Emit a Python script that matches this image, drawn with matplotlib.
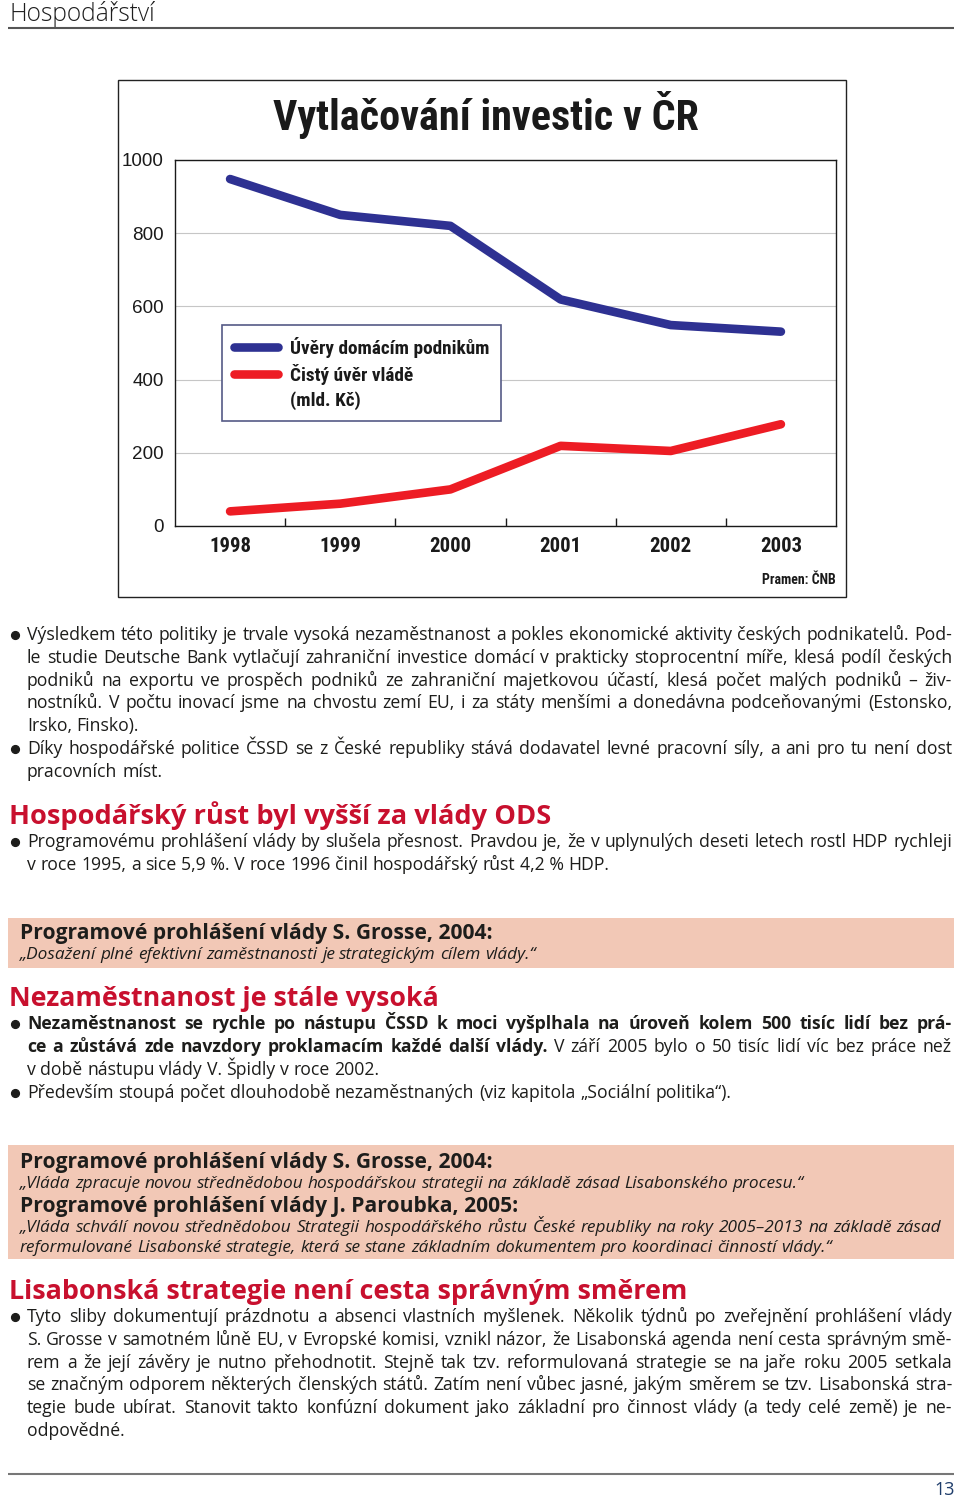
import matplotlib
matplotlib.use("Agg")
import matplotlib.pyplot as plt
from matplotlib import font_manager
from matplotlib.font_manager import FontProperties
from matplotlib.lines import Line2D
from matplotlib.patches import Rectangle

# chart data (mld. Kč)
years = [1998, 1999, 2000, 2001, 2002, 2003]
uvery_podnikum = [948, 850, 820, 619, 549, 531]
cisty_uver_vlade = [40, 61, 100, 219, 205, 278]
y_ticks = [0, 200, 400, 600, 800, 1000]
series_labels = ["Úvěry domácím podnikům", "Čistý úvěr vládě", "(mld. Kč)"]
chart_title = "Vytlačování investic v ČR"
source_note = "Pramen: ČNB"

# page text
page_header = "Hospodářství"
page_number = "13"

p1_lines = [
    "Výsledkem této politiky je trvale vysoká nezaměstnanost a pokles ekonomické aktivity českých podnikatelů. Pod-",
    "le studie Deutsche Bank vytlačují zahraniční investice domácí v prakticky stoprocentní míře, klesá podíl českých",
    "podniků na exportu ve prospěch podniků ze zahraniční majetkovou účastí, klesá počet malých podniků – živ-",
    "nostníků. V počtu inovací jsme na chvostu zemí EU, i za státy menšími a donedávna podceňovanými (Estonsko,",
    "Irsko, Finsko).",
]
p2_lines = [
    "Díky hospodářské politice ČSSD se z České republiky stává dodavatel levné pracovní síly, a ani pro tu není dost",
    "pracovních míst.",
]
heading1 = "Hospodářský růst byl vyšší za vlády ODS"
p3_lines = [
    "Programovému prohlášení vlády by slušela přesnost. Pravdou je, že v uplynulých deseti letech rostl HDP rychleji",
    "v roce 1995, a sice 5,9\u00a0%. V roce 1996 činil hospodářský růst 4,2\u00a0% HDP.",
]
box1_title = "Programové prohlášení vlády S. Grosse, 2004:"
box1_quote = ["„Dosažení plné efektivní zaměstnanosti je strategickým cílem vlády.“"]
heading2 = "Nezaměstnanost je stále vysoká"
p4_lines = [
    [("Nezaměstnanost se rychle po nástupu ČSSD k moci vyšplhala na úroveň kolem 500 tisíc lidí bez prá-", "bold")],
    [("ce a zůstává zde navzdory proklamacím každé další vlády.", "bold"),
     ("V září 2005 bylo o 50 tisíc lidí víc bez práce než", "normal")],
    "v době nástupu vlády V. Špidly v roce 2002.",
]
p5_lines = ["Především stoupá počet dlouhodobě nezaměstnaných (viz kapitola „Sociální politika“)."]
box2_title1 = "Programové prohlášení vlády S. Grosse, 2004:"
box2_quote1 = ["„Vláda zpracuje novou střednědobou hospodářskou strategii na základě zásad Lisabonského procesu.“"]
box2_title2 = "Programové prohlášení vlády J. Paroubka, 2005:"
box2_quote2 = [
    "„Vláda schválí novou střednědobou Strategii hospodářského růstu České republiky na roky 2005–2013 na základě zásad",
    "reformulované Lisabonské strategie, která se stane základním dokumentem pro koordinaci činností vlády.“",
]
heading3 = "Lisabonská strategie není cesta správným směrem"
p6_lines = [
    "Tyto sliby dokumentují prázdnotu a absenci vlastních myšlenek. Několik týdnů po zveřejnění  prohlášení vlády",
    "S. Grosse v samotném lůně EU, v Evropské komisi, vznikl názor, že Lisabonská agenda není cesta správným smě-",
    "rem a že její závěry je nutno přehodnotit. Stejně tak tzv. reformulovaná strategie se na jaře roku 2005 setkala",
    "se značným odporem některých členských států. Zatím není vůbec jasné, jakým směrem se tzv. Lisabonská stra-",
    "tegie bude ubírat. Stanovit takto konfúzní dokument jako základní pro činnost vlády (a tedy celé země) je ne-",
    "odpovědné.",
]

W, H = 960, 1499
TEXT = "#1d1d1b"
RED = "#c8102e"
PINK = "#f2c8b6"

installed = {f.name for f in font_manager.fontManager.ttflist}


def pick(*names):
    for n in names:
        if n in installed:
            return n
    return "DejaVu Sans"


NARROW = pick("Liberation Sans Narrow", "Roboto Condensed", "DejaVu Sans Condensed", "Liberation Sans")
PLAIN = pick("Liberation Sans", "Arial", "DejaVu Sans")
BODY = pick("Open Sans", "Noto Sans", "Lato", "DejaVu Sans")

fig = plt.figure(figsize=(W / 100, H / 100), dpi=100)
page = fig.add_axes([0, 0, 1, 1])
page.set_xlim(0, W)
page.set_ylim(H, 0)
page.axis("off")
renderer = fig.canvas.get_renderer()


def fp(family, size, weight="normal", style="normal"):
    return FontProperties(family=family, size=size, weight=weight, style=style)


def text_w(s, prop):
    return renderer.get_text_width_height_descent(s, prop, ismath=False)[0]


def fit(s, family, width, weight="normal", style="normal"):
    # font size (pt) that gives the string the wanted width in px
    return 10 * width / text_w(s, fp(family, 10, weight, style))


def as_segments(line):
    if isinstance(line, str):
        return [(line, "normal")]
    return line


def line_widths(line, size, style):
    toks = [(w, wt) for s, wt in as_segments(line) for w in s.split(" ") if w]
    props = [fp(BODY, size, wt, style) for _, wt in toks]
    widths = [text_w(w, p) for (w, _), p in zip(toks, props)]
    space = text_w("n n", props[0]) - text_w("nn", props[0])
    return toks, props, widths, space


def natural(line, size, style="normal"):
    toks, props, widths, space = line_widths(line, size, style)
    return sum(widths) + space * (len(toks) - 1)


def paragraph(lines, baselines, x0, x1, size, style="normal", bullet=True):
    for i, (line, yb) in enumerate(zip(lines, baselines)):
        toks, props, widths, space = line_widths(line, size, style)
        last = i == len(lines) - 1
        gap = space if (last or len(toks) < 2) else (x1 - x0 - sum(widths)) / (len(toks) - 1)
        x = x0
        for (w, _), p, wd in zip(toks, props, widths):
            page.text(x, yb, w, fontproperties=p, color=TEXT, va="baseline", ha="left")
            x += wd + gap
    if bullet:
        page.plot([15], [baselines[0] - 5.5], "o", ms=5.6, color=TEXT)


def rows(first, n, step=22.8):
    return [first + k * step for k in range(n)]


# ---- sizes for the page text ----
body = 10 * 592 / natural(p3_lines[1], 10)
for ln in p1_lines[:-1] + p2_lines[:-1] + p3_lines[:-1] + p6_lines[:-1] + p4_lines[:-1]:
    body = min(body, 0.995 * body * 925 / natural(ln, body))
quote = 10 * 796 / natural(box2_quote1[0], 10, "italic")
quote = min(quote, 0.995 * quote * 921 / natural(box2_quote2[0], quote, "italic"))
box_bold = fit(box1_title, BODY, 472, "bold")

# ---- header / footer ----
page.text(9, 21, page_header, fontproperties=fp(BODY, fit(page_header, BODY, 146, "light"), "light"),
          color="#1e1e1e", va="baseline")
page.plot([8, 954], [27.5, 27.5], color="#555555", lw=1.5, solid_capstyle="butt")
page.plot([8, 954], [1474, 1474], color="#777777", lw=1.5, solid_capstyle="butt")
page.text(955, 1495, page_number, fontproperties=fp(BODY, 13), color="#1f3d6b", ha="right", va="baseline")

# ---- chart frame and title ----
page.add_patch(Rectangle((118, 80), 728, 517, fill=False, edgecolor="#222222", lw=1))
page.text(273, 130, chart_title, fontproperties=fp(NARROW, fit(chart_title, NARROW, 425, "bold"), "bold"),
          color="#1a1a1a", va="baseline")
page.text(836, 584, source_note, fontproperties=fp(NARROW, fit(source_note, NARROW, 74, "bold"), "bold"),
          color="#1a1a1a", ha="right", va="baseline")

ax = fig.add_axes([175 / W, 1 - 526 / H, (836 - 175) / W, (526 - 160) / H])
l1, = ax.plot(years, uvery_podnikum, color="#2e3192", lw=6.2, solid_capstyle="round", solid_joinstyle="round")
l2, = ax.plot(years, cisty_uver_vlade, color="#ed1c24", lw=6.2, solid_capstyle="round", solid_joinstyle="round")
ax.set_xlim(1997.5, 2003.5)
ax.set_ylim(0, 1000)
ax.set_yticks(y_ticks)
ax.set_xticks(years)
ax.set_xticks([y + 0.5 for y in years[:-1]], minor=True)
ax.grid(axis="y", color="#c6c6c6", lw=0.8)
ax.set_axisbelow(True)
for sp in ax.spines.values():
    sp.set_color("#1a1a1a")
    sp.set_linewidth(1)
ax.tick_params(axis="y", length=0, pad=8)
ax.tick_params(axis="x", which="major", length=0, pad=8)
ax.tick_params(axis="x", which="minor", direction="in", length=6, width=1, color="#1a1a1a")
ytick_prop = fp(PLAIN, fit("1000", PLAIN, 42))
xtick_prop = fp(NARROW, fit("1998", NARROW, 42, "bold"), "bold")
for lbl in ax.get_yticklabels():
    lbl.set_fontproperties(ytick_prop)
    lbl.set_color("#1a1a1a")
for lbl in ax.get_xticklabels():
    lbl.set_fontproperties(xtick_prop)
    lbl.set_color("#1a1a1a")

leg_size = fit(series_labels[0], NARROW, 200, "bold")
leg_px = leg_size * 100 / 72
blank = Line2D([], [], color="none")
leg = ax.legend(handles=[l1, l2, blank], labels=series_labels, loc="upper left",
                bbox_to_anchor=(222 / W, 1 - 325 / H), bbox_transform=fig.transFigure, borderaxespad=0,
                fancybox=False, framealpha=1, edgecolor="#555a86", prop=fp(NARROW, leg_size, "bold"),
                handlelength=44 / leg_px, handletextpad=12 / leg_px, borderpad=0.6, labelspacing=0.32)
leg.get_frame().set_linewidth(1.2)
for t in leg.get_texts():
    t.set_color("#1a1a1a")

# ---- article text ----
paragraph(p1_lines, rows(640, 5), 27, 952, body)
paragraph(p2_lines, rows(754, 2), 27, 952, body)

page.text(9, 824, heading1, fontproperties=fp(BODY, fit(heading1, BODY, 542, "bold"), "bold"),
          color=RED, va="baseline")
paragraph(p3_lines, rows(847, 2), 27, 952, body)

page.add_patch(Rectangle((8, 918), 946, 50, facecolor=PINK, edgecolor="none"))
page.text(20, 939, box1_title, fontproperties=fp(BODY, box_bold, "bold"), color=TEXT, va="baseline")
paragraph(box1_quote, [959], 20, 941, quote, style="italic", bullet=False)

page.text(9, 1006, heading2, fontproperties=fp(BODY, fit(heading2, BODY, 429, "bold"), "bold"),
          color=RED, va="baseline")
paragraph(p4_lines, rows(1029, 3), 27, 952, body)
paragraph(p5_lines, [1098], 27, 952, body)

page.add_patch(Rectangle((8, 1145), 946, 114, facecolor=PINK, edgecolor="none"))
page.text(20, 1168, box2_title1, fontproperties=fp(BODY, box_bold, "bold"), color=TEXT, va="baseline")
paragraph(box2_quote1, [1188], 20, 941, quote, style="italic", bullet=False)
page.text(20, 1212, box2_title2, fontproperties=fp(BODY, box_bold, "bold"), color=TEXT, va="baseline")
paragraph(box2_quote2, [1232, 1252], 20, 941, quote, style="italic", bullet=False)

page.text(9, 1299, heading3, fontproperties=fp(BODY, fit(heading3, BODY, 678, "bold"), "bold"),
          color=RED, va="baseline")
paragraph(p6_lines, rows(1322, 6), 27, 952, body)

fig.savefig("out.png", dpi=100)
